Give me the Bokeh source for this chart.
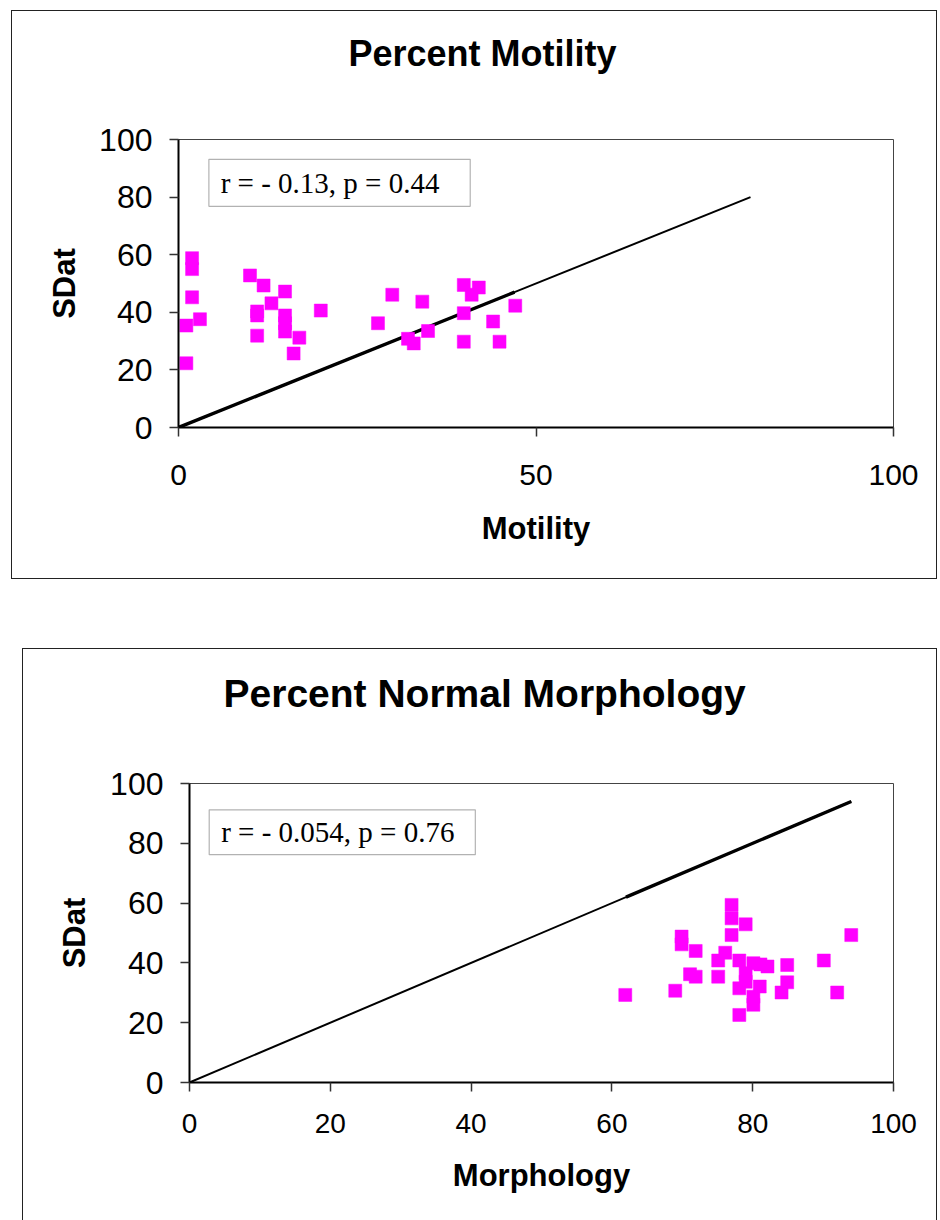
from bokeh.plotting import figure
from bokeh.models import Label, BoxAnnotation, FixedTicker, Range1d, Title
from bokeh.layouts import column
from bokeh.embed import file_html
from bokeh.resources import INLINE

# ---- data: Percent Motility ----
mot_x = [1.9, 1.9, 1.9, 3.0, 1.1, 1.1, 10.0, 11.9, 14.9, 13.0, 11.0, 11.0, 11.0,
         14.9, 14.9, 14.9, 16.9, 16.1, 19.9, 29.9, 27.9, 34.1, 34.9, 32.1, 32.9,
         39.9, 42.0, 41.0, 39.9, 47.1, 44.0, 39.9, 44.9]
mot_y = [58.8, 55.0, 45.2, 37.6, 35.4, 22.3, 52.8, 49.3, 47.2, 43.1, 40.3, 38.9, 31.9,
         38.9, 36.2, 33.3, 31.2, 25.7, 40.6, 46.1, 36.2, 43.7, 33.5, 30.8, 29.2,
         49.5, 48.6, 46.1, 39.7, 42.3, 36.8, 29.8, 29.8]
mot_line = [0, 80]
mot_line_dense = [0, 47]
mot_xticks = [0, 50, 100]
mot_stats = "r = - 0.13, p = 0.44"

# ---- data: Percent Normal Morphology ----
mor_x = [61.9, 69.0, 69.9, 69.9, 71.9, 71.1, 71.9, 75.1, 76.1, 75.1, 77.0, 77.0,
         79.0, 77.0, 78.1, 80.1, 81.1, 82.1, 79.0, 79.0, 78.1, 81.0, 80.1, 80.1,
         78.1, 84.9, 84.9, 84.1, 90.1, 94.0, 92.0]
mor_y = [29.3, 30.7, 48.8, 46.2, 44.0, 36.2, 35.4, 40.8, 43.4, 35.4, 59.4, 54.9,
         52.9, 49.3, 40.8, 39.9, 39.5, 38.8, 36.5, 33.7, 31.5, 32.1, 28.7, 26.0,
         22.6, 39.3, 33.5, 30.1, 40.8, 49.3, 30.1]
mor_line = [0, 94]
mor_line_dense = [62, 94]
mor_xticks = [0, 20, 40, 60, 80, 100]
mor_stats = "r = - 0.054, p = 0.76"

y_ticks = [0, 20, 40, 60, 80, 100]

SANS = "Liberation Sans"
SERIF = "Liberation Serif"
MAGENTA = "#FF00FF"


def make_chart(title, xlabel, xs, ys, line, dense, xticks, stats, box, text_xy,
               width, height, borders, title_size, title_offset, spacer,
               xtick_size, xtick_standoff, ylab_standoff, xlab_standoff, css):
    p = figure(width=width, height=height, output_backend="svg",
               toolbar_location=None, x_range=Range1d(0, 100),
               y_range=Range1d(0, 100),
               min_border_left=borders[0], min_border_right=borders[1],
               min_border_top=borders[2], min_border_bottom=borders[3])
    p.title.text = ""
    p.title.standoff = 0
    # spacer title (closest to the plot area) and the visible title above it
    p.add_layout(Title(text=" ", text_font_size="10px", standoff=spacer), "above")
    p.add_layout(Title(text=title, align="left", offset=title_offset, standoff=0,
                       text_font=SANS, text_font_style="bold",
                       text_font_size=title_size, text_color="black"), "above")
    p.grid.visible = False
    p.background_fill_color = "white"
    p.border_fill_color = "white"
    p.outline_line_color = "#444444"
    p.outline_line_width = 1

    for ax in (p.xaxis[0], p.yaxis[0]):
        ax.axis_line_color = "black"
        ax.axis_line_width = 2
        ax.major_tick_line_color = "#333333"
        ax.major_tick_line_width = 1.5
        ax.major_tick_in = 0
        ax.major_tick_out = 9
        ax.minor_tick_line_color = None
        ax.major_label_text_font = SANS
        ax.major_label_text_color = "black"
        ax.axis_label_text_font = SANS
        ax.axis_label_text_font_style = "bold"
        ax.axis_label_text_font_size = "31px"
        ax.axis_label_text_color = "black"

    p.xaxis[0].major_label_text_font_size = xtick_size
    p.yaxis[0].major_label_text_font_size = "32px"
    p.xaxis[0].ticker = FixedTicker(ticks=xticks)
    p.yaxis[0].ticker = FixedTicker(ticks=y_ticks)
    p.xaxis[0].axis_label = xlabel
    p.yaxis[0].axis_label = "SDat"
    p.xaxis[0].major_label_standoff = xtick_standoff
    p.yaxis[0].major_label_standoff = 17
    p.xaxis[0].axis_label_standoff = xlab_standoff
    p.yaxis[0].axis_label_standoff = ylab_standoff

    p.line(line, line, line_color="black", line_width=2)
    p.line(dense, dense, line_color="black", line_width=3.4)
    p.scatter(xs, ys, marker="square", size=13, fill_color=MAGENTA,
              line_color=MAGENTA, line_width=0.5)

    p.add_layout(BoxAnnotation(left=box[0], right=box[1], bottom=box[2], top=box[3],
                               fill_color="white", fill_alpha=1,
                               line_color="black", line_width=1.2))
    p.add_layout(Label(x=text_xy[0], y=text_xy[1], text=stats, text_font=SERIF,
                       text_font_size="29px", text_align="left",
                       text_baseline="middle", text_color="black"))
    p.styles = css
    return p


top = make_chart("Percent Motility", "Motility", mot_x, mot_y, mot_line,
                 mot_line_dense, mot_xticks, mot_stats,
                 (4.25, 40.8, 76.8, 93.1), (5.9, 85.0),
                 926, 569, (166, 38, 128, 153), "36px", 170, 53,
                 "30px", 28, 14, 23,
                 {"border": "1.5px solid #222", "box-sizing": "border-box"})
top.margin = (10, 0, 0, 11)

bottom = make_chart("Percent Normal Morphology", "Morphology", mor_x, mor_y,
                    mor_line, mor_line_dense, mor_xticks, mor_stats,
                    (2.8, 40.6, 76.2, 91.2), (4.5, 83.9),
                    915, 572, (166, 45, 134, 139), "39px", 34, 56,
                    "28px", 22, 15, 22,
                    {"border": "1.5px solid #222", "border-bottom": "none",
                     "box-sizing": "border-box"})
bottom.margin = (69, 0, 0, 22)

layout = column(top, bottom)
open("out.html", "w").write(file_html(layout, INLINE))
